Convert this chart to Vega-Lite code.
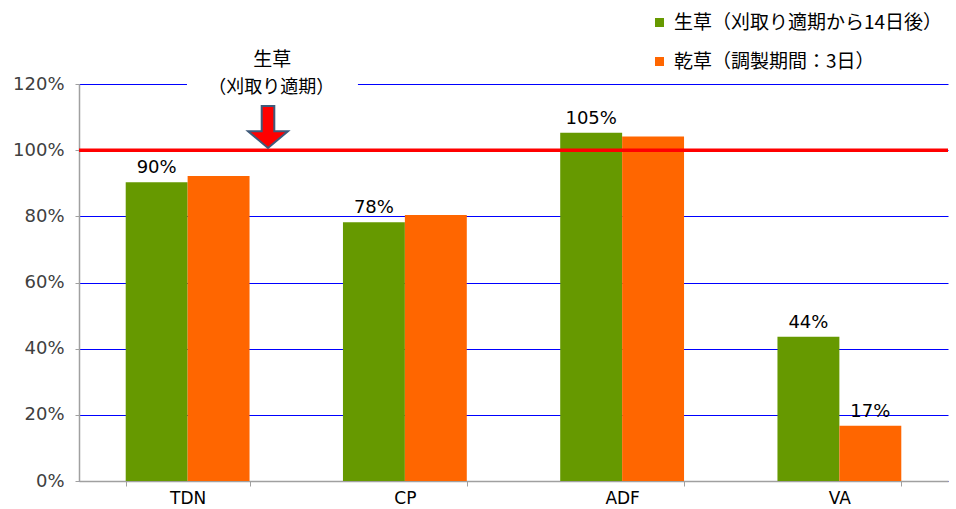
{
  "$schema": "https://vega.github.io/schema/vega-lite/v6.json",
  "width": 869,
  "height": 397,
  "autosize": "none",
  "padding": {"left": 79, "top": 84, "right": 8, "bottom": 28},
  "background": "white",
  "config": {
    "view": {"stroke": null},
    "font": "DejaVu Sans"
  },
  "datasets": {
    "bars": [
      {"cat": "TDN", "series": "生草（刈取り適期から14日後）", "value": 90.3, "label": "90%"},
      {"cat": "TDN", "series": "乾草（調製期間：3日）", "value": 92.2, "label": ""},
      {"cat": "CP", "series": "生草（刈取り適期から14日後）", "value": 78.2, "label": "78%"},
      {"cat": "CP", "series": "乾草（調製期間：3日）", "value": 80.4, "label": ""},
      {"cat": "ADF", "series": "生草（刈取り適期から14日後）", "value": 105.3, "label": "105%"},
      {"cat": "ADF", "series": "乾草（調製期間：3日）", "value": 104.1, "label": ""},
      {"cat": "VA", "series": "生草（刈取り適期から14日後）", "value": 43.6, "label": "44%"},
      {"cat": "VA", "series": "乾草（調製期間：3日）", "value": 16.7, "label": "17%"}
    ],
    "notes": [
      {"u": 0.89, "v": 127.4, "text": "生草", "kind": "title"},
      {"u": 0.885, "v": 118.9, "text": "（刈取り適期）", "kind": "sub"}
    ],
    "mask": [{"u1": 0.497, "u2": 1.284, "v1": 117.5, "v2": 122.5}],
    "arrow": [{"u": 0.87, "v": 107.0}]
  },
  "resolve": {"scale": {"x": "independent"}},
  "layer": [
    {
      "data": {"name": "bars"},
      "encoding": {
        "x": {
          "field": "cat", "type": "nominal", "sort": ["TDN", "CP", "ADF", "VA"],
          "scale": {"paddingInner": 0.43, "paddingOuter": 0.215},
          "axis": {
            "title": null, "labelAngle": 0, "labelFontSize": 17, "labelColor": "#000000",
            "labelPadding": 4, "tickBand": "extent", "tickSize": 5, "tickColor": "#A0A0A0",
            "domainColor": "#A0A0A0", "domainWidth": 1.5
          }
        },
        "xOffset": {"field": "series", "type": "nominal", "sort": ["生草（刈取り適期から14日後）", "乾草（調製期間：3日）"]},
        "y": {
          "field": "value", "type": "quantitative",
          "scale": {"domain": [0, 120], "nice": false},
          "axis": {
            "title": null, "values": [0, 20, 40, 60, 80, 100, 120],
            "labelExpr": "datum.value + '%'", "labelFontSize": 18, "labelColor": "#404040",
            "labelPadding": 11, "tickSize": 4, "tickColor": "#A0A0A0",
            "domainColor": "#A0A0A0", "domainWidth": 1.5,
            "grid": true, "gridColor": "#0000FF", "gridWidth": 1.2
          }
        }
      },
      "layer": [
        {
          "mark": {"type": "bar"},
          "encoding": {
            "color": {
              "field": "series", "type": "nominal",
              "sort": ["生草（刈取り適期から14日後）", "乾草（調製期間：3日）"],
              "scale": {"domain": ["生草（刈取り適期から14日後）", "乾草（調製期間：3日）"], "range": ["#669900", "#FF6600"]},
              "legend": {
                "title": null, "orient": "none", "legendX": 571, "legendY": -71,
                "symbolType": "square", "symbolSize": 81, "symbolStrokeWidth": 0,
                "labelFontSize": 19, "labelFont": "Noto Sans CJK JP", "labelColor": "#000000",
                "labelOffset": 5, "rowPadding": 19, "padding": 0, "labelLimit": 400
              }
            }
          }
        },
        {
          "transform": [{"filter": "datum.label != ''"}],
          "mark": {"type": "text", "baseline": "alphabetic", "dy": -9, "fontSize": 18, "color": "#000000", "font": "DejaVu Sans"},
          "encoding": {"text": {"field": "label"}}
        }
      ]
    },
    {
      "data": {"values": [{"v": 100}]},
      "mark": {"type": "rule", "color": "#FF0000", "strokeWidth": 3.5},
      "encoding": {"y": {"field": "v", "type": "quantitative"}}
    },
    {
      "data": {"name": "mask"},
      "mark": {"type": "rect", "color": "white"},
      "encoding": {
        "x": {"field": "u1", "type": "quantitative", "scale": {"domain": [0, 4], "nice": false, "zero": false}, "axis": null},
        "x2": {"field": "u2"},
        "y": {"field": "v1", "type": "quantitative"},
        "y2": {"field": "v2"}
      }
    },
    {
      "data": {"name": "notes"},
      "mark": {"type": "text", "baseline": "middle", "align": "center", "font": "Noto Sans CJK JP", "color": "#000000"},
      "encoding": {
        "x": {"field": "u", "type": "quantitative", "scale": {"domain": [0, 4], "nice": false, "zero": false}, "axis": null},
        "y": {"field": "v", "type": "quantitative"},
        "text": {"field": "text"},
        "size": {"field": "kind", "type": "nominal", "scale": {"domain": ["title", "sub"], "range": [19, 18]}, "legend": null},
        "fontWeight": {"field": "kind", "type": "nominal", "scale": {"domain": ["title", "sub"], "range": ["bold", "normal"]}, "legend": null}
      }
    },
    {
      "data": {"name": "arrow"},
      "mark": {
        "type": "point", "filled": true, "fill": "#FF0000", "stroke": "#3F5A7A", "strokeWidth": 2, "opacity": 1,
        "size": 1764,
        "shape": "M-0.3,-1L0.3,-1L0.3,0.2L0.95,0.2L0,1L-0.95,0.2L-0.3,0.2Z"
      },
      "encoding": {
        "x": {"field": "u", "type": "quantitative", "scale": {"domain": [0, 4], "nice": false, "zero": false}, "axis": null},
        "y": {"field": "v", "type": "quantitative"}
      }
    }
  ]
}
